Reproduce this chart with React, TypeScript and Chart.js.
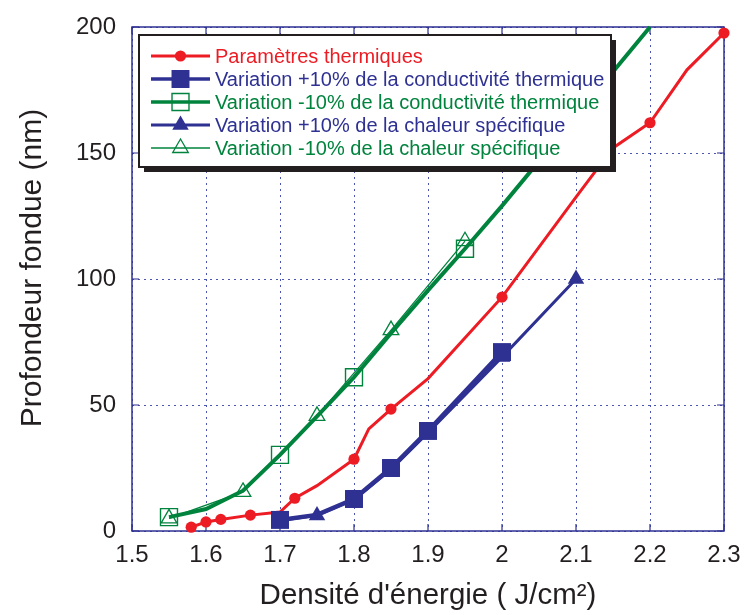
import React, { useEffect, useRef } from "react";
import { Chart, registerables } from "chart.js";

Chart.register(...registerables);

// ---------- data ----------
const seriesLabels = [
  "Paramètres thermiques",
  "Variation +10% de la conductivité thermique",
  "Variation -10% de la conductivité thermique",
  "Variation +10% de la chaleur spécifique",
  "Variation -10% de la chaleur spécifique",
];

const xTickValues = [1.5, 1.6, 1.7, 1.8, 1.9, 2, 2.1, 2.2, 2.3];
const yTickValues = [0, 50, 100, 150, 200];

const xTitle = "Densité d'énergie ( J/cm²)";
const yTitle = "Profondeur fondue (nm)";

// Paramètres thermiques
const refX = [1.58, 1.6, 1.62, 1.66, 1.7, 1.72, 1.75, 1.8, 1.82, 1.85, 1.9, 2.0, 2.1, 2.15, 2.2, 2.25, 2.3];
const refY = [1.5, 3.6, 4.6, 6.3, 7.5, 13, 18, 28.5, 40.5, 48.4, 60.5, 92.8, 132.5, 152, 162, 183, 197.6];
const refMarked = [1, 1, 1, 1, 0, 1, 0, 1, 0, 1, 0, 1, 0, 0, 1, 0, 1];

// +10% conductivité
const kPlusX = [1.7, 1.75, 1.8, 1.85, 1.9, 2.0];
const kPlusY = [4.4, 6.4, 12.7, 25, 39.7, 71];
const kPlusMarked = [1, 0, 1, 1, 1, 1];

// -10% conductivité
const kMinusX = [1.55, 1.6, 1.65, 1.7, 1.75, 1.8, 1.85, 1.9, 1.95, 2.0, 2.1, 2.2];
const kMinusY = [5.5, 8.7, 16, 30.2, 45.5, 61, 78.5, 95.5, 112, 129, 164.5, 200];
const kMinusMarked = [1, 0, 0, 1, 0, 1, 0, 0, 1, 0, 0, 0];

// +10% chaleur spécifique
const cPlusX = [1.7, 1.75, 1.8, 1.85, 1.9, 2.0, 2.1];
const cPlusY = [4.2, 6.2, 12.5, 24.5, 39, 69, 100];
const cPlusMarked = [1, 1, 1, 1, 1, 1, 1];

// -10% chaleur spécifique
const cMinusX = [1.55, 1.65, 1.75, 1.85, 1.95];
const cMinusY = [5, 15.5, 45.7, 79.7, 115];
const cMinusMarked = [1, 1, 1, 1, 1];

// ---------- styles ----------
const RED = "#ed1c24";
const NAVY = "#2e3192";
const GREEN = "#00833d";
const GRID = "#4a55b0";
const TEXT = "#231f20";
const FONT = "'Liberation Sans', Arial, Helvetica, sans-serif";

type Style = {
  color: string;
  lineWidth: number;
  shape: "circle" | "rect" | "triangle";
  radius: number;
  filled: boolean;
  markerLine: number;
};

const styles: Style[] = [
  { color: RED, lineWidth: 3, shape: "circle", radius: 5.6, filled: true, markerLine: 1 },
  { color: NAVY, lineWidth: 4.5, shape: "rect", radius: 12.7, filled: true, markerLine: 1 },
  { color: GREEN, lineWidth: 4, shape: "rect", radius: 12, filled: false, markerLine: 1.4 },
  { color: NAVY, lineWidth: 3, shape: "triangle", radius: 9.5, filled: true, markerLine: 1 },
  { color: GREEN, lineWidth: 1.3, shape: "triangle", radius: 9, filled: false, markerLine: 1.3 },
];

const toPoints = (xs: number[], ys: number[]) => xs.map((x, i) => ({ x, y: ys[i] }));

function drawMarker(ctx: CanvasRenderingContext2D, s: Style, x: number, y: number) {
  ctx.save();
  ctx.beginPath();
  if (s.shape === "circle") {
    ctx.arc(x, y, s.radius, 0, Math.PI * 2);
  } else if (s.shape === "rect") {
    const h = s.radius * Math.SQRT1_2;
    ctx.rect(x - h, y - h, 2 * h, 2 * h);
  } else {
    const r = s.radius;
    ctx.moveTo(x, y - r);
    ctx.lineTo(x + r * Math.sin((2 * Math.PI) / 3), y + r / 2);
    ctx.lineTo(x - r * Math.sin((2 * Math.PI) / 3), y + r / 2);
    ctx.closePath();
  }
  if (s.filled) {
    ctx.fillStyle = s.color;
    ctx.fill();
  } else {
    ctx.strokeStyle = s.color;
    ctx.lineWidth = s.markerLine;
    ctx.stroke();
  }
  ctx.restore();
}

const framePlugin = {
  id: "frameTicks",
  beforeDatasetsDraw(chart: any) {
    const { ctx, chartArea: a, scales } = chart;
    ctx.save();
    ctx.strokeStyle = NAVY;
    ctx.lineWidth = 1.2;
    ctx.beginPath();
    for (const v of xTickValues) {
      const px = scales.x.getPixelForValue(v);
      ctx.moveTo(px, a.bottom);
      ctx.lineTo(px, a.bottom - 7);
      ctx.moveTo(px, a.top);
      ctx.lineTo(px, a.top + 7);
    }
    for (const v of yTickValues) {
      const py = scales.y.getPixelForValue(v);
      ctx.moveTo(a.left, py);
      ctx.lineTo(a.left + 7, py);
      ctx.moveTo(a.right, py);
      ctx.lineTo(a.right - 7, py);
    }
    ctx.stroke();
    ctx.lineWidth = 1.5;
    ctx.strokeRect(a.left, a.top, a.right - a.left, a.bottom - a.top);
    ctx.restore();

    // y axis title (drawn slightly above the plot centre, as in the reference)
    ctx.save();
    ctx.fillStyle = TEXT;
    ctx.font = `30px ${FONT}`;
    ctx.textAlign = "center";
    ctx.textBaseline = "middle";
    ctx.translate(33, (a.top + a.bottom) / 2 - 11);
    ctx.rotate(-Math.PI / 2);
    ctx.fillText(yTitle, 0, 0);
    ctx.restore();
  },
};

const legendPlugin = {
  id: "boxLegend",
  afterDraw(chart: any) {
    const { ctx, chartArea: a } = chart;
    const left = a.left + 7;
    const top = a.top + 8;
    const w = 472;
    const h = 132;
    ctx.save();
    ctx.fillStyle = "#231f20";
    ctx.fillRect(left + 5, top + 5, w, h);
    ctx.fillStyle = "#ffffff";
    ctx.fillRect(left, top, w, h);
    ctx.strokeStyle = "#231f20";
    ctx.lineWidth = 2;
    ctx.strokeRect(left, top, w, h);
    ctx.font = `20px ${FONT}`;
    ctx.textBaseline = "middle";
    ctx.textAlign = "left";
    seriesLabels.forEach((label, i) => {
      const s = styles[i];
      const cy = top + 21 + i * 23;
      ctx.strokeStyle = s.color;
      ctx.lineWidth = Math.min(s.lineWidth, 3.5);
      ctx.beginPath();
      ctx.moveTo(left + 12, cy);
      ctx.lineTo(left + 71, cy);
      ctx.stroke();
      drawMarker(ctx, s, left + 41.5, cy);
      ctx.fillStyle = s.color;
      ctx.fillText(label, left + 76, cy + 1);
    });
    ctx.restore();
  },
};

export default function App() {
  const ref = useRef<HTMLCanvasElement | null>(null);

  useEffect(() => {
    document.body.style.margin = "0";
    const canvas = ref.current;
    if (!canvas) return;

    const all = [
      { xs: refX, ys: refY, marked: refMarked, order: 2 },
      { xs: kPlusX, ys: kPlusY, marked: kPlusMarked, order: 0 },
      { xs: kMinusX, ys: kMinusY, marked: kMinusMarked, order: 3 },
      { xs: cPlusX, ys: cPlusY, marked: cPlusMarked, order: 1 },
      { xs: cMinusX, ys: cMinusY, marked: cMinusMarked, order: 4 },
    ];

    const datasets = all.map((d, i) => {
      const s = styles[i];
      return {
        label: seriesLabels[i],
        data: toPoints(d.xs, d.ys),
        order: d.order,
        clip: false,
        borderColor: s.color,
        backgroundColor: s.filled ? s.color : "rgba(0,0,0,0)",
        borderWidth: s.lineWidth,
        pointStyle: s.shape,
        pointRadius: (c: any) => (d.marked[c.dataIndex] ? s.radius : 0),
        pointBackgroundColor: s.filled ? s.color : "rgba(0,0,0,0)",
        pointBorderColor: s.color,
        pointBorderWidth: s.filled ? 0 : s.markerLine,
        pointHoverRadius: 0,
        tension: 0,
        fill: false,
      };
    });

    const chart = new Chart(canvas, {
      type: "line",
      data: { datasets },
      options: {
        animation: false,
        responsive: false,
        maintainAspectRatio: false,
        layout: { padding: { top: 27, right: 20, left: 0, bottom: 0 } },
        plugins: { legend: { display: false }, tooltip: { enabled: false } },
        scales: {
          x: {
            type: "linear",
            min: 1.5,
            max: 2.3,
            afterBuildTicks: (scale: any) => {
              scale.ticks = xTickValues.map((v) => ({ value: v }));
            },
            afterFit: (scale: any) => {
              scale.height = 84;
              scale.paddingLeft = 0;
              scale.paddingRight = 0;
            },
            grid: { color: GRID, lineWidth: 1, drawTicks: false },
            border: { display: false, dash: [2, 4] },
            ticks: {
              padding: 10,
              color: TEXT,
              font: { family: FONT, size: 24 },
              maxRotation: 0,
              autoSkip: false,
              callback: (v: any) => String(Math.round(Number(v) * 10) / 10),
            },
            title: {
              display: true,
              text: xTitle,
              color: TEXT,
              font: { family: FONT, size: 29.5 },
              padding: { top: 0, bottom: 1 },
            },
          },
          y: {
            type: "linear",
            min: 0,
            max: 200,
            afterBuildTicks: (scale: any) => {
              scale.ticks = yTickValues.map((v) => ({ value: v }));
            },
            afterFit: (scale: any) => {
              scale.width = 132;
              scale.paddingTop = 0;
              scale.paddingBottom = 0;
            },
            grid: { color: GRID, lineWidth: 1, drawTicks: false },
            border: { display: false, dash: [2, 4] },
            ticks: {
              padding: 16,
              color: TEXT,
              font: { family: FONT, size: 24 },
              autoSkip: false,
              callback: (v: any) => String(v),
            },
            title: { display: false },
          },
        },
      },
      plugins: [framePlugin, legendPlugin],
    } as any);

    return () => chart.destroy();
  }, []);

  return <canvas ref={ref} width={744} height={615} style={{ display: "block" }} />;
}
